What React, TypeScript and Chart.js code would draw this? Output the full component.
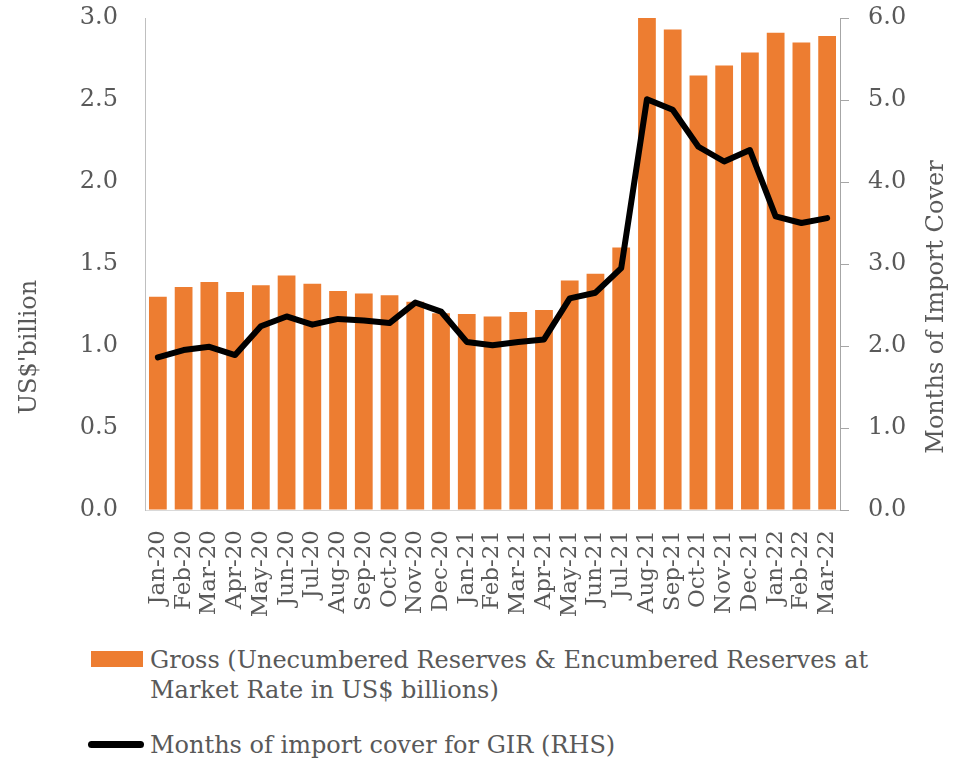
import React, { useEffect, useRef } from "react";
import { Chart, registerables } from "chart.js";

Chart.register(...registerables);

const categories = [
  "Jan-20", "Feb-20", "Mar-20", "Apr-20", "May-20", "Jun-20", "Jul-20", "Aug-20", "Sep-20",
  "Oct-20", "Nov-20", "Dec-20", "Jan-21", "Feb-21", "Mar-21", "Apr-21", "May-21", "Jun-21",
  "Jul-21", "Aug-21", "Sep-21", "Oct-21", "Nov-21", "Dec-21", "Jan-22", "Feb-22", "Mar-22",
];

const grossReserves = [
  1.30, 1.36, 1.39, 1.33, 1.37, 1.43, 1.38, 1.335, 1.32,
  1.31, 1.27, 1.20, 1.195, 1.18, 1.207, 1.22, 1.40, 1.44,
  1.60, 3.01, 2.93, 2.65, 2.71, 2.79, 2.91, 2.85, 2.89,
];

const importCover = [
  1.86, 1.95, 1.99, 1.89, 2.24, 2.36, 2.26, 2.33, 2.31,
  2.28, 2.53, 2.42, 2.05, 2.01, 2.05, 2.08, 2.58, 2.65,
  2.95, 5.01, 4.88, 4.43, 4.25, 4.39, 3.58, 3.50, 3.56,
];

const leftTitle = "US$'billion";
const rightTitle = "Months of Import Cover";
const barLabel = "Gross (Unecumbered Reserves & Encumbered Reserves at Market Rate in US$ billions)";
const barLabelLines = ["Gross (Unecumbered Reserves & Encumbered Reserves at", "Market Rate in US$ billions)"];
const lineLabel = "Months of import cover for GIR (RHS)";

const FONT = "'DejaVu Serif', 'Liberation Serif', serif";
const TEXT = "#595959";
const ORANGE = "#ED7D31";
const AXIS_GREY = "#a6a6a6";

const titlesPlugin = {
  id: "axisTitles",
  afterDraw(chart: any) {
    const ctx = chart.ctx;
    // right-axis tick marks (outside)
    const y1 = chart.scales.y1;
    ctx.save();
    ctx.strokeStyle = AXIS_GREY;
    ctx.lineWidth = 1;
    y1.ticks.forEach((t: any) => {
      const py = Math.round(y1.getPixelForValue(t.value)) + 0.5;
      ctx.beginPath();
      ctx.moveTo(y1.left, py);
      ctx.lineTo(y1.left + 9, py);
      ctx.stroke();
    });
    ctx.restore();

    ctx.save();
    ctx.fillStyle = TEXT;
    ctx.font = `24px ${FONT}`;
    ctx.textAlign = "center";
    ctx.textBaseline = "middle";
    ctx.translate(30, 347);
    ctx.rotate(-Math.PI / 2);
    ctx.fillText(leftTitle, 0, 0);
    ctx.restore();
    ctx.save();
    ctx.fillStyle = TEXT;
    ctx.font = `24px ${FONT}`;
    ctx.textAlign = "center";
    ctx.textBaseline = "middle";
    ctx.translate(937, 307);
    ctx.rotate(-Math.PI / 2);
    ctx.fillText(rightTitle, 0, 0);
    ctx.restore();
  },
};

export default function App() {
  const ref = useRef<HTMLCanvasElement | null>(null);

  useEffect(() => {
    if (!ref.current) return;
    const chart = new Chart(ref.current, {
      type: "bar",
      data: {
        labels: categories,
        datasets: [
          {
            type: "line",
            label: lineLabel,
            data: importCover,
            yAxisID: "y1",
            borderColor: "#000000",
            backgroundColor: "#000000",
            borderWidth: 6,
            pointRadius: 0,
            tension: 0,
            order: 0,
            borderJoinStyle: "round",
            borderCapStyle: "round",
          } as any,
          {
            type: "bar",
            label: barLabel,
            data: grossReserves,
            yAxisID: "y",
            backgroundColor: ORANGE,
            borderWidth: 0,
            categoryPercentage: 1,
            barPercentage: 0.69,
            order: 1,
          } as any,
        ],
      },
      options: {
        responsive: false,
        animation: false,
        layout: { padding: { top: 18, left: 0, right: 0, bottom: 0 } },
        plugins: {
          legend: { display: false },
          tooltip: { enabled: false },
          title: { display: false },
        },
        scales: {
          x: {
            grid: { display: true, drawOnChartArea: false, drawTicks: false },
            border: { display: true, color: "#d9d9d9", width: 1 },
            ticks: {
              autoSkip: false,
              maxRotation: 90,
              minRotation: 90,
              padding: 20,
              color: TEXT,
              font: { family: FONT, size: 23 },
            },
            afterFit(scale: any) {
              scale.height = 130;
            },
          },
          y: {
            position: "left",
            min: 0,
            max: 3,
            grid: { display: true, drawOnChartArea: false, drawTicks: true, tickLength: 27, tickColor: "rgba(0,0,0,0)" },
            border: { display: true, color: "#bfbfbf", width: 1 },
            ticks: {
              stepSize: 0.5,
              padding: 0,
              color: TEXT,
              font: { family: FONT, size: 24 },
              callback: (v: any) => Number(v).toFixed(1),
            },
            afterFit(scale: any) {
              scale.width = 145;
            },
          },
          y1: {
            position: "right",
            min: 0,
            max: 6,
            grid: { display: true, drawOnChartArea: false, drawTicks: true, tickLength: 28, tickColor: "rgba(0,0,0,0)" },
            border: { display: true, color: AXIS_GREY, width: 1 },
            ticks: {
              stepSize: 1,
              padding: 0,
              color: TEXT,
              font: { family: FONT, size: 24 },
              callback: (v: any) => Number(v).toFixed(1),
            },
            afterFit(scale: any) {
              scale.width = 120;
            },
          },
        },
      },
      plugins: [titlesPlugin],
    });
    return () => chart.destroy();
  }, []);

  const textStyle: React.CSSProperties = {
    position: "absolute",
    fontFamily: FONT,
    fontSize: 24,
    lineHeight: "30px",
    color: TEXT,
    whiteSpace: "nowrap",
  };

  return (
    <div style={{ position: "fixed", left: 0, top: 0, width: 960, height: 759, background: "#fff", overflow: "hidden" }}>
      <canvas ref={ref} width={960} height={640} style={{ position: "absolute", left: 0, top: 0, width: 960, height: 640 }} />
      <div style={{ position: "absolute", left: 91, top: 651, width: 52, height: 16, background: ORANGE }} />
      <div style={{ ...textStyle, left: 150, top: 645 }}>
        {barLabelLines[0]}
        <br />
        {barLabelLines[1]}
      </div>
      <div style={{ position: "absolute", left: 88, top: 741, width: 56, height: 7, background: "#000", borderRadius: 4 }} />
      <div style={{ ...textStyle, left: 150, top: 730 }}>{lineLabel}</div>
    </div>
  );
}
